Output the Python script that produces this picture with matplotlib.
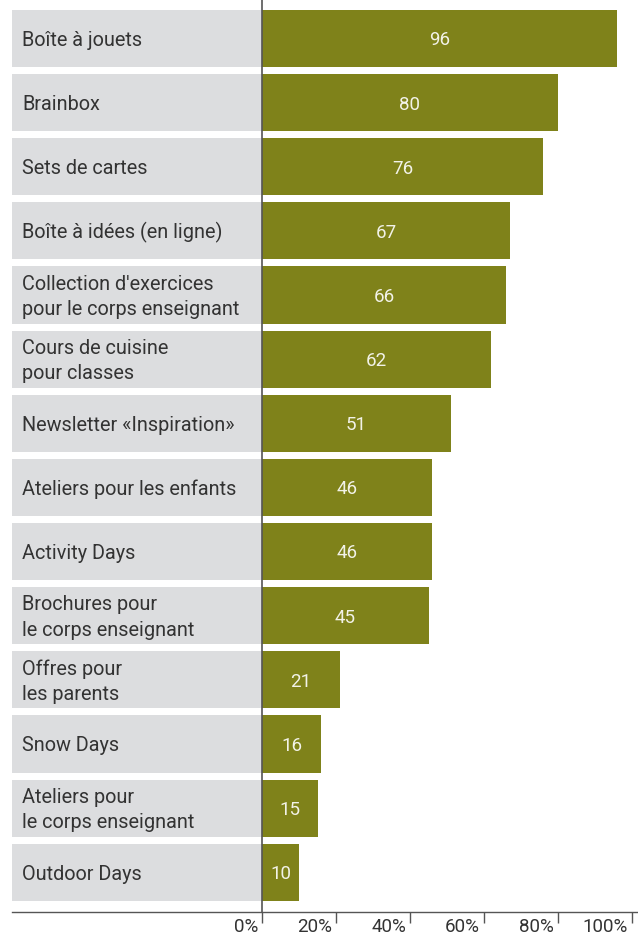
import matplotlib
matplotlib.use('Agg')
import matplotlib.pyplot as plt

categories = [
    'Boîte à jouets',
    'Brainbox',
    'Sets de cartes',
    'Boîte à idées (en ligne)',
    "Collection d'exercices\npour le corps enseignant",
    'Cours de cuisine\npour classes',
    'Newsletter «Inspiration»',
    'Ateliers pour les enfants',
    'Activity Days',
    'Brochures pour\nle corps enseignant',
    'Offres pour\nles parents',
    'Snow Days',
    'Ateliers pour\nle corps enseignant',
    'Outdoor Days',
]
values = [96, 80, 76, 67, 66, 62, 51, 46, 46, 45, 21, 16, 15, 10]
ticks = [0, 20, 40, 60, 80, 100]
tick_labels = ['0%', '20%', '40%', '60%', '80%', '100%']

plt.rcParams['font.family'] = ['Roboto', 'DejaVu Sans']

W, H = 638, 936
fig = plt.figure(figsize=(W / 100, H / 100), dpi=100)
ax = fig.add_axes([12 / W, 1 - 912 / H, 1 - 12 / W, 912 / H])

px = 3.7  # pixels per percent
xmin = -250 / px
xmax = (638 - 262) / px
ax.set_xlim(xmin, xmax)
ax.set_ylim(13.62, -0.6)

bar_col = '#7f821a'
grey = '#dcdddf'
ys = list(range(len(values)))
ax.barh(ys, [-xmin] * len(values), left=xmin, height=0.89, color=grey, zorder=1)
ax.barh(ys, values, height=0.89, color=bar_col, zorder=2)

for y, lab, v in zip(ys, categories, values):
    ax.text(xmin + 10 / px, y + 0.03, lab, ha='left', va='center', fontsize=14.3,
            color='#333333', linespacing=1.45, zorder=3)
    ax.text(v / 2, y + 0.03, str(v), ha='center', va='center', fontsize=13.5,
            color='#f2f2e8', zorder=3)

for s in ['top', 'right', 'left']:
    ax.spines[s].set_visible(False)
ax.spines['bottom'].set_color('#555555')
ax.spines['bottom'].set_linewidth(1)
ax.axvline(0, color='#555555', lw=1.2, zorder=4)

ax.set_yticks([])
ax.set_xticks(ticks)
ax.set_xticklabels([])
ax.tick_params(axis='x', direction='out', length=8, width=1, color='#555555')
for t, tl in zip(ticks, tick_labels):
    ax.annotate(tl, xy=(t, 0), xycoords=('data', 'axes fraction'),
                xytext=(-4, -15), textcoords='offset pixels',
                ha='right', va='center', fontsize=13.5, color='#333333')

fig.savefig('out.png', dpi=100)
